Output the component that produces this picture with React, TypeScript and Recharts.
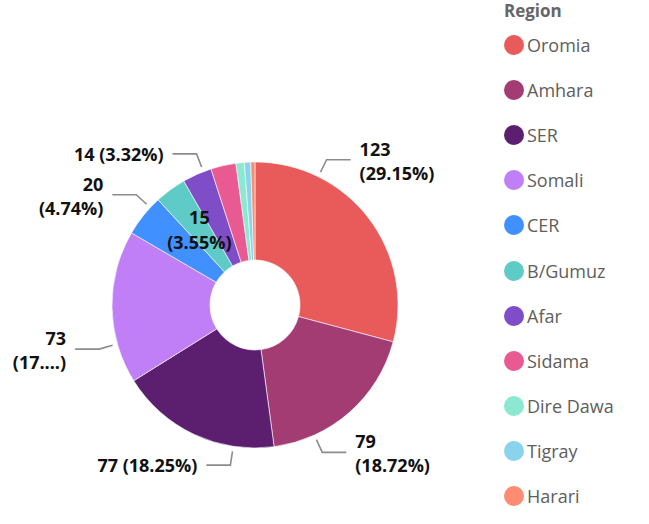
import React from 'react';
import { PieChart, Pie, Cell, Legend } from 'recharts';

const regions = ['Oromia', 'Amhara', 'SER', 'Somali', 'CER', 'B/Gumuz', 'Afar', 'Sidama', 'Dire Dawa', 'Tigray', 'Harari'];
const counts = [123, 79, 77, 73, 20, 15, 14, 12, 4, 3, 2];
const colors = ['#E95A5A', '#A43C74', '#5C1F70', '#C07FF7', '#4190FF', '#5ECBC6', '#7F4DC7', '#EA5A92', '#8CE8D0', '#8AD3EC', '#FD8C72'];

const legendTitle = 'Region';

// label style per slice: 'two' = two-line outside, 'one' = single line outside,
// 'trunc' = two-line truncated, 'inside' = inside slice, 'none' = no label
const labelModes = ['two', 'two', 'one', 'trunc', 'two', 'inside', 'one', 'none', 'none', 'none', 'none'];
// fraction along slice where the leader line attaches
const labelAnchor = [0.25, 0.75, 0.25, 0.26, 0.74, 0.5, 0.73, 0.5, 0.5, 0.5, 0.5];

const total = counts.reduce((a, b) => a + b, 0);
const data = regions.map((r, i) => ({ name: r, value: counts[i] }));

const FONT = '"Open Sans", "Noto Sans", sans-serif';
const RAD = Math.PI / 180;

const sliceAngles = (() => {
  const out: { start: number; end: number }[] = [];
  let a = 90;
  counts.forEach((c) => {
    const sweep = (c / total) * 360;
    out.push({ start: a, end: a - sweep });
    a -= sweep;
  });
  return out;
})();

const renderLabel = (props: any) => {
  const { cx, cy, innerRadius, outerRadius, index, value, midAngle } = props;
  const mode = labelModes[index];
  if (mode === 'none') return null;
  const pct = ((value / total) * 100).toFixed(2) + '%';
  const txtStyle = { fontFamily: FONT, fontWeight: 700, fontSize: 18, fill: '#111' } as any;
  if (mode === 'inside') {
    const r = (innerRadius + outerRadius) / 2;
    const x = cx + r * Math.cos(-midAngle * RAD);
    const y = cy + r * Math.sin(-midAngle * RAD);
    return (
      <g>
        <text x={x} y={y - 12} textAnchor="middle" dominantBaseline="central" style={txtStyle}>{value}</text>
        <text x={x} y={y + 13} textAnchor="middle" dominantBaseline="central" style={txtStyle}>({pct})</text>
      </g>
    );
  }
  const { start, end } = sliceAngles[index];
  const ang = start + (end - start) * labelAnchor[index];
  const cos = Math.cos(-ang * RAD);
  const sin = Math.sin(-ang * RAD);
  const r1 = outerRadius + 5;
  const r2 = outerRadius + 19;
  const x1 = cx + r1 * cos, y1 = cy + r1 * sin;
  const x2 = cx + r2 * cos, y2 = cy + r2 * sin;
  const right = cos >= 0;
  const x3 = x2 + (right ? 24 : -24);
  const tx = x3 + (right ? 9 : -9);
  const anchor = right ? 'start' : 'end';
  let lines: string[];
  if (mode === 'one') lines = [`${value} (${pct})`];
  else if (mode === 'trunc') lines = [`${value}`, `(${pct.slice(0, 2)}....)`];
  else lines = [`${value}`, `(${pct})`];
  return (
    <g>
      <polyline points={`${x1},${y1} ${x2},${y2} ${x3},${y2}`} fill="none" stroke="#8c8c8c" strokeWidth={1.6} />
      {lines.length === 1 ? (
        <text x={tx} y={y2} textAnchor={anchor} dominantBaseline="central" style={txtStyle}>{lines[0]}</text>
      ) : (
        <>
          <text x={tx} y={y2 - 11} textAnchor={anchor} dominantBaseline="central" style={txtStyle}>{lines[0]}</text>
          <text x={tx} y={y2 + 13} textAnchor={anchor} dominantBaseline="central" style={txtStyle}>{lines[1]}</text>
        </>
      )}
    </g>
  );
};

const LegendContent = () => (
  <div style={{ fontFamily: FONT }}>
    <div style={{ fontWeight: 700, fontSize: 17, color: '#666', height: 22, lineHeight: '22px' }}>{legendTitle}</div>
    {regions.map((r, i) => (
      <div key={r} style={{ display: 'flex', alignItems: 'center', height: 45.2 }}>
        <svg width={20} height={20} style={{ flex: 'none' }}>
          <circle cx={10} cy={10} r={10} fill={colors[i]} />
        </svg>
        <span style={{ fontSize: 18, color: '#605E5C', marginLeft: 3 }}>{r}</span>
      </div>
    ))}
  </div>
);

export default function App() {
  return (
    <div style={{ position: 'absolute', left: 0, top: 0, width: 649, height: 524, background: '#fff' }}>
      <PieChart width={649} height={524} margin={{ top: 0, right: 0, bottom: 0, left: 0 }}>
        <Pie
          data={data}
          dataKey="value"
          nameKey="name"
          cx={255}
          cy={305}
          innerRadius={45}
          outerRadius={143}
          startAngle={90}
          endAngle={-270}
          stroke="#fff"
          strokeWidth={0.6}
          label={renderLabel}
          labelLine={false}
          isAnimationActive={false}
        >
          {data.map((d, i) => (
            <Cell key={d.name} fill={colors[i]} />
          ))}
        </Pie>
        <Legend
          layout="vertical"
          align="right"
          verticalAlign="top"
          content={<LegendContent />}
          wrapperStyle={{ left: 504, top: 0, width: 145 }}
        />
      </PieChart>
    </div>
  );
}
